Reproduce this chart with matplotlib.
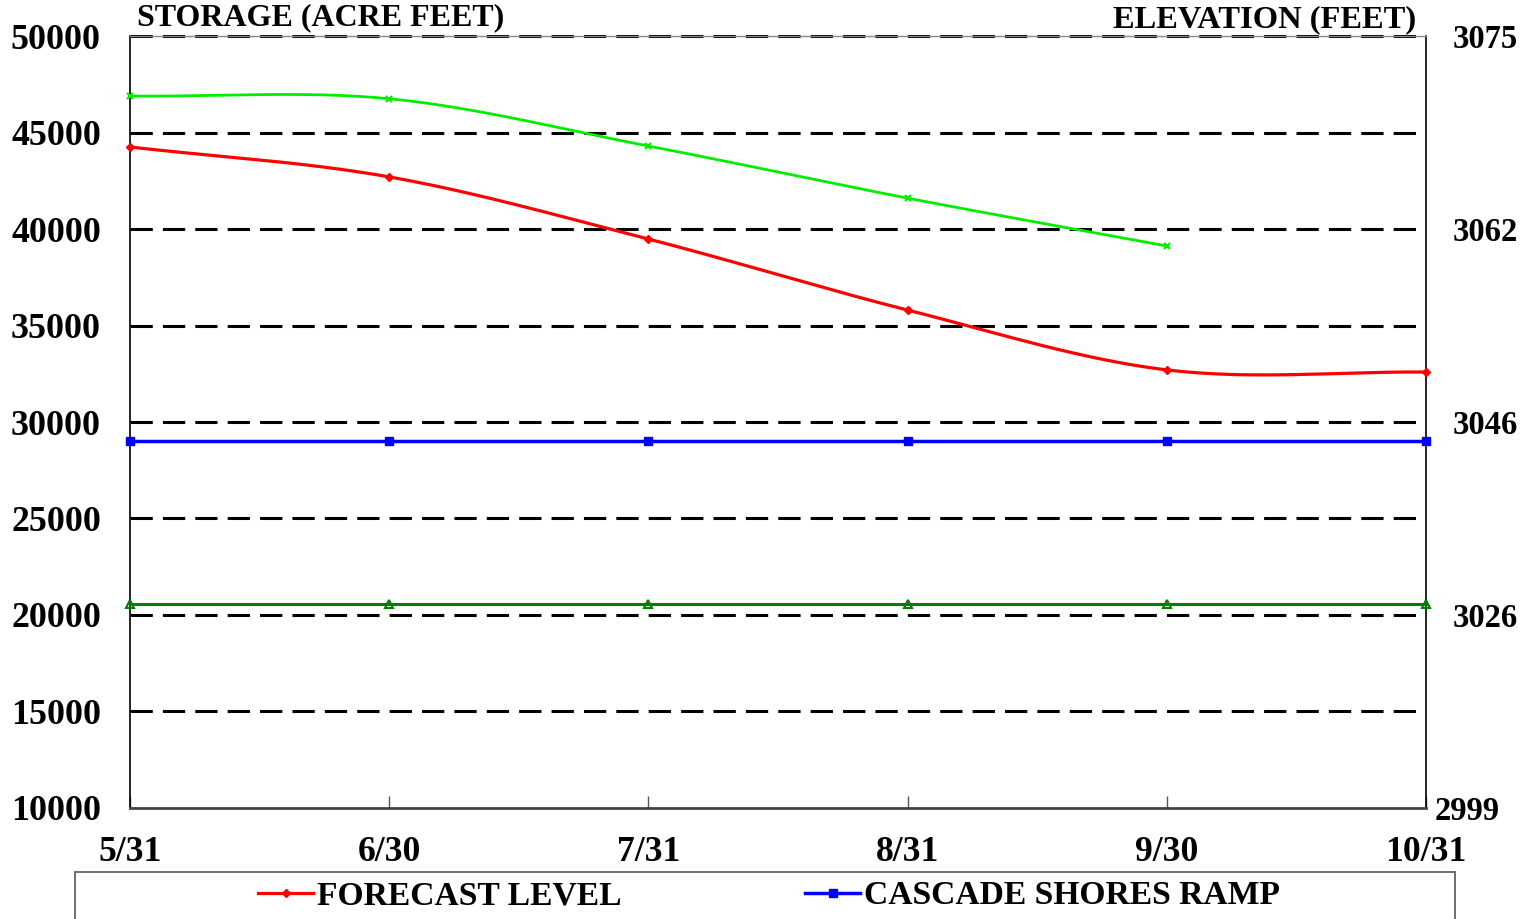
import numpy as np
import matplotlib
matplotlib.use("Agg")
import matplotlib.pyplot as plt
from matplotlib.patches import Rectangle
from matplotlib.lines import Line2D

# ---- data ----
dates = ["5/31", "6/30", "7/31", "8/31", "9/30", "10/31"]
forecast_level = [44250, 42700, 39480, 35800, 32700, 32590]
upper_level = [46890, 46750, 44300, 41600, 39120]
cascade_shores_ramp = [29000, 29000, 29000, 29000, 29000, 29000]
lower_level = [20570, 20570, 20570, 20570, 20570, 20570]
left_ticks = [10000, 15000, 20000, 25000, 30000, 35000, 40000, 45000, 50000]
elev_pos = [10000, 20000, 30000, 40000, 50000]
elev_labels = ["2999", "3026", "3046", "3062", "3075"]

FONT = "Liberation Serif"


def smooth(xs, ys, n=40):
    """Catmull-Rom style (Excel-like smoothed line) through data points."""
    xs = np.asarray(xs, float)
    ys = np.asarray(ys, float)
    if len(xs) < 3:
        return xs, ys
    px = np.concatenate([[2 * xs[0] - xs[1]], xs, [2 * xs[-1] - xs[-2]]])
    py = np.concatenate([[2 * ys[0] - ys[1]], ys, [2 * ys[-1] - ys[-2]]])
    outx, outy = [], []
    t = np.linspace(0, 1, n)
    for i in range(1, len(px) - 2):
        x0, x1, x2, x3 = px[i - 1:i + 3]
        y0, y1, y2, y3 = py[i - 1:i + 3]
        c1x, c1y = x1 + (x2 - x0) / 6, y1 + (y2 - y0) / 6
        c2x, c2y = x2 - (x3 - x1) / 6, y2 - (y3 - y1) / 6
        bx = (1 - t) ** 3 * x1 + 3 * (1 - t) ** 2 * t * c1x + 3 * (1 - t) * t ** 2 * c2x + t ** 3 * x2
        by = (1 - t) ** 3 * y1 + 3 * (1 - t) ** 2 * t * c1y + 3 * (1 - t) * t ** 2 * c2y + t ** 3 * y2
        outx.extend(bx)
        outy.extend(by)
    return np.array(outx), np.array(outy)


fig = plt.figure(figsize=(15.3, 9.19), dpi=100)
ax = fig.add_axes([0.0850, 0.1208, 0.8471, 0.8400])

x = np.arange(len(dates))

ax.set_xlim(0, len(dates) - 1)
ax.set_ylim(10000, 50000)

# gridlines
for yv in left_ticks[1:]:
    ax.axhline(yv, xmax=0.995, color="black", lw=2.2, dashes=(7.3, 3.3), zorder=1, clip_on=False)

# upper (light green)
xu = x[:len(upper_level)]
sx, sy = smooth(xu, upper_level)
ax.plot(sx, sy, color="#00ee00", lw=2.0, zorder=3)
ax.plot(xu, upper_level, ls="none", marker="x", ms=5, mew=1.5, color="#00ee00", zorder=4, clip_on=False)

# forecast (red)
sx, sy = smooth(x, forecast_level)
ax.plot(sx, sy, color="#ff0000", lw=2.3, zorder=3)
ax.plot(x, forecast_level, ls="none", marker="D", ms=4, color="#ff0000", zorder=4, clip_on=False)

# cascade shores ramp (blue)
ax.plot(x, cascade_shores_ramp, color="#0000ff", lw=2.5, marker="s", ms=6, zorder=3, clip_on=False)

# lower (dark green)
ax.plot(x, lower_level, color="#008000", lw=2.2, marker="^", ms=6, mfc="none", mew=1.5,
        zorder=3, clip_on=False)

# axes styling
ax.set_xticks(x)
ax.set_xticklabels(dates)
ax.set_yticks(left_ticks)
ax.set_yticklabels([str(v) for v in left_ticks])
ax.tick_params(axis="x", direction="in", length=9, width=1, pad=20, colors="#555555",
               labelcolor="black")
ax.tick_params(axis="y", length=0, pad=21)
for lab in ax.get_xticklabels():
    lab.set_fontfamily(FONT)
    lab.set_fontweight("bold")
    lab.set_fontsize(25.7)
for lab in ax.get_yticklabels():
    lab.set_fontfamily(FONT)
    lab.set_fontweight("bold")
    lab.set_fontsize(25.8)
for s in ["left", "right"]:
    ax.spines[s].set_linewidth(1.2)
    ax.spines[s].set_color("black")
ax.spines["bottom"].set_linewidth(2)
ax.spines["bottom"].set_color("#444444")
ax.spines["top"].set_linewidth(1)
ax.spines["top"].set_color("#888888")

ax2 = ax.twinx()
ax2.set_ylim(ax.get_ylim())
ax2.set_yticks(elev_pos)
ax2.set_yticklabels(elev_labels)
ax2.tick_params(axis="y", length=0, pad=19)
for lab in ax2.get_yticklabels():
    lab.set_fontfamily(FONT)
    lab.set_fontweight("bold")
    lab.set_fontsize(23.5)
ax2.yaxis.get_major_ticks()[0].set_pad(6)
for s in ax2.spines.values():
    s.set_visible(False)

fig.text(137 / 1530, 1 - 18 / 919, "STORAGE (ACRE FEET)", fontfamily=FONT, fontweight="bold",
         fontsize=23, va="center", ha="left")
fig.text(1416 / 1530, 1 - 20 / 919, "ELEVATION (FEET)", fontfamily=FONT, fontweight="bold",
         fontsize=23.4, va="center", ha="right")

# legend box (extends beyond bottom)
fig.patches.append(Rectangle((75 / 1530, -0.05), (1455 - 75) / 1530, (0.05 + 1 - 872 / 919),
                             transform=fig.transFigure, fill=False, edgecolor="#555555", lw=1.2))
legend_labels = ["FORECAST LEVEL", "CASCADE SHORES RAMP"]
handles = [
    Line2D([], [], color="#ff0000", lw=2.3, marker="D", ms=4),
    Line2D([], [], color="#0000ff", lw=2.5, marker="s", ms=6),
]
for h, lab, xs in zip(handles, legend_labels, [258, 805]):
    leg = fig.legend([h], [lab], frameon=False, loc="center left",
                     bbox_to_anchor=(xs / 1530, 1 - 896 / 919), borderaxespad=0, borderpad=0,
                     handlelength=1.65, handletextpad=0.12,
                     prop={"family": FONT, "weight": "bold", "size": 24.2})

fig.savefig("out.png", dpi=100)
